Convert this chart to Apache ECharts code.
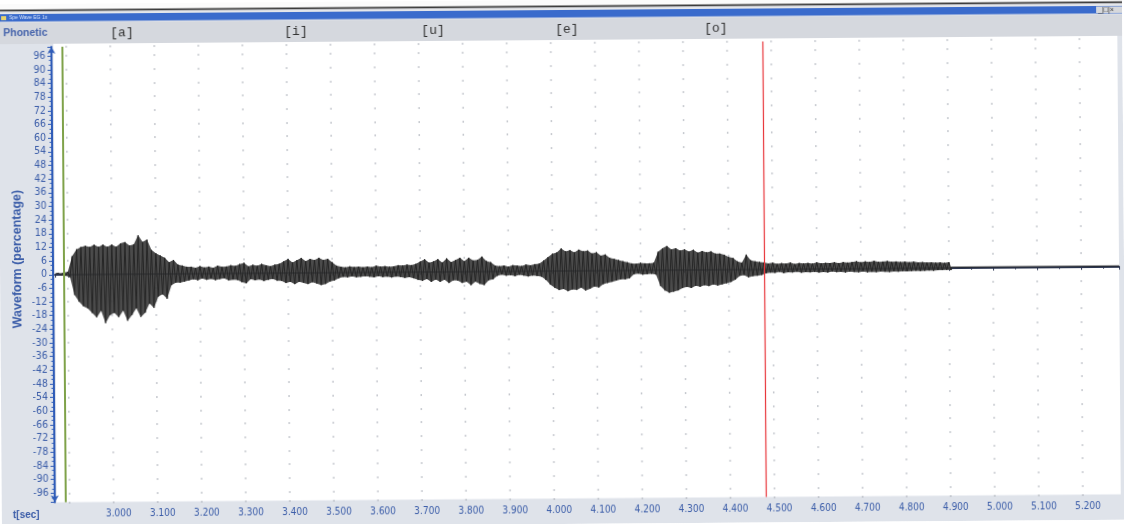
<!DOCTYPE html>
<html>
<head>
<meta charset="utf-8">
<title>waveform</title>
<script src="https://cdn.jsdelivr.net/npm/echarts@6/dist/echarts.min.js"></script>
<style>
    html, body { margin: 0; padding: 0; background: #fff; overflow: hidden; }
    /* the reference is a slightly tilted scan */
    #main { width: 1124px; height: 524px; transform: rotate(-0.43deg); }
</style>
</head>
<body>
<div id="main"></div>
<script>
    // axis range (seconds / percent)
    var tMin = 2.871, tMax = 5.286;
    var yMin = -100, yMax = 100;
    var xStep = 0.1, yStep = 6;

    // envelope of the waveform, one upper and one lower peak every sampleStep seconds
    var sampleStart = 2.88;
    var sampleStep = 0.01;
    var waveUpper = [
        0.6, 0.8, 1.2, 8, 11, 12, 12.5, 12, 13, 12,
        13, 12, 13, 12, 13.5, 14, 12.5, 13, 17, 14,
        15, 10.5, 9, 8, 7, 5, 6, 4, 3.5, 3,
        3, 2.5, 3.2, 2.6, 3, 2.4, 3.4, 2.8, 3, 3.5,
        3.2, 4, 4.5, 3, 3.6, 3.2, 4, 3.4, 3, 3.6,
        4, 5, 6, 4.5, 5.5, 6.5, 5, 6, 5.5, 6.5,
        5.5, 6, 4.5, 3, 2.5, 2.2, 2.6, 2.3, 2.5, 2.2,
        2.5, 2.2, 2.8, 2.4, 2.6, 2.3, 2.5, 3, 2.8, 3.2,
        3, 3.5, 4.5, 5.5, 4, 4.5, 5.5, 4, 5.8, 4.2,
        5, 6, 4.5, 6, 4.8, 5, 6.5, 4.5, 4, 2.5,
        2.2, 2.5, 2, 2.6, 2.4, 2.2, 2.8, 2.5, 3, 3.2,
        4.5, 6, 7.5, 8, 9.8, 8.5, 9, 8, 9.2, 8.5,
        8.8, 7.5, 8, 6.5, 7, 5.5, 5, 4.5, 4, 3.5,
        3, 2.8, 3.2, 3, 3, 3.2, 8, 9.5, 10.5, 9,
        9.5, 8.5, 9, 8, 8.8, 7.5, 8.2, 7.6, 8, 7,
        7, 6.5, 5.5, 5, 3.5, 3, 6.5, 4, 3.5, 3.2,
        3, 2.5, 2.8, 2.3, 2.6, 2.4, 2.8, 2.2, 2.6, 2.4,
        2.6, 2.3, 2.8, 2.4, 2.6, 2.5, 2.8, 2.4, 2.9, 2.6,
        2.9, 3.2, 2.7, 3.1, 2.8, 3.3, 2.9, 3, 3.2, 2.8,
        3, 2.7, 2.9, 2.6, 2.8, 2.5, 2.6, 2.4, 2.5, 2.3,
        2.4, 2.2, 2.5
    ];
    var waveLower = [
        -0.4, -0.6, -1.2, -9, -12, -14, -15, -17, -19, -16,
        -21.5, -18, -17, -19, -16, -20.5, -18, -15, -19, -17,
        -13, -15, -10, -9, -11, -5, -4, -4, -3.5, -3,
        -2.5, -3, -2.2, -2.8, -2.4, -3, -2.5, -2.2, -3.2, -2.8,
        -3, -4, -4.5, -2.6, -3.2, -2.8, -3.5, -3, -2.6, -3.4,
        -3.5, -4.5, -4, -5, -4, -4.5, -5, -4.2, -4.8, -5.5,
        -5, -4, -3.5, -2.5, -2, -2.2, -1.8, -2.2, -2, -1.8,
        -2, -2.3, -1.8, -2.2, -2, -2.4, -2, -2.2, -2.6, -2.3,
        -2.8, -3.5, -4, -3.2, -4.5, -3.4, -4.5, -3.5, -5, -3.8,
        -4, -5, -4.5, -6, -4.5, -5.5, -6, -4, -3.5, -2,
        -1.5, -2, -1.8, -2.2, -1.6, -2, -2.4, -2, -2.2, -2.5,
        -4, -6, -7.5, -8.5, -8, -9, -8.2, -8.5, -7.5, -8.8,
        -8, -7, -7.5, -6, -5.5, -5, -4.5, -4, -4, -3.5,
        -1.8, -1.5, -2, -1.8, -1.6, -2, -7, -9, -10, -9.5,
        -9, -8, -7.5, -8, -7, -7.5, -6.8, -7.2, -6.5, -7,
        -6.5, -6, -5.5, -4.5, -2.8, -2.5, -3.5, -3, -2.8, -2.5,
        -1.8, -1.5, -1.6, -1.2, -1.8, -1.4, -1.5, -1.2, -1.6, -1.4,
        -1.5, -1.3, -1.6, -1.4, -1.6, -1.2, -1.5, -1.4, -1.7, -1.3,
        -1.5, -1.6, -1.3, -1.7, -1.5, -1.6, -1.4, -1.5, -1.6, -1.4,
        -1.5, -1.3, -1.4, -1.3, -1.2, -1.3, -1.2, -1.1, -1.2, -1,
        -1, -0.9, -1
    ];
    // flat parts before and after the recording
    var leadTimes = [2.872, 2.876];
    var leadValues = [0.4, 0.4];
    var tailTimes = [4.905, 5.286];
    var tailValues = [0.3, 0.3];

    // phonetic marks and cursors
    var phoneticLabels = ['[a]', '[i]', '[u]', '[e]', '[o]'];
    var phoneticTimes = [3.027, 3.422, 3.733, 4.037, 4.375];
    var cursorGreen = 2.894;
    var cursorRed = 4.479;

    var blueText = '#3a5ca8';
    var narrow = "'Liberation Sans Narrow', 'DejaVu Sans Condensed', Arial, sans-serif";

    // zig-zag between upper and lower peaks
    var wave = [];
    for (var i = 0; i < leadTimes.length; i++) wave.push([leadTimes[i], leadValues[i]]);
    for (var j = 0; j < waveUpper.length; j++) {
        var t = sampleStart + j * sampleStep;
        wave.push([t, waveUpper[j]]);
        wave.push([t + sampleStep / 2, waveLower[j]]);
    }
    for (var k = 0; k < tailTimes.length; k++) wave.push([tailTimes[k], tailValues[k]]);

    // filled body of the waveform, drawn between the two envelopes
    function renderBody(params, api) {
        var pts = [];
        for (var a = 0; a < waveUpper.length; a++) {
            pts.push(api.coord([sampleStart + a * sampleStep, waveUpper[a]]));
        }
        for (var b = waveLower.length - 1; b >= 0; b--) {
            pts.push(api.coord([sampleStart + b * sampleStep + sampleStep / 2, waveLower[b]]));
        }
        return { type: 'polygon', shape: { points: pts }, style: { fill: '#3c3c3c', opacity: 0.92 } };
    }

    var chart = echarts.init(document.getElementById('main'));

    var option = {
        animation: false,
        backgroundColor: '#dfe3ea',
        grid: { left: 55, right: 5, top: 43, bottom: 25.5, containLabel: false },
        xAxis: {
            type: 'value',
            min: tMin,
            max: tMax,
            minInterval: xStep,
            maxInterval: xStep,
            axisLine: { show: true, lineStyle: { color: '#2b3550', width: 2 } },
            axisTick: { show: true, length: 3, lineStyle: { color: '#2b3550' } },
            minorTick: { show: true, splitNumber: 2, length: 2, lineStyle: { color: '#2b3550' } },
            axisLabel: {
                color: blueText,
                fontFamily: narrow,
                fontSize: 10,
                margin: 7,
                padding: [0, 0, 0, 10],
                showMinLabel: false,
                showMaxLabel: false,
                formatter: function (v) { return v < 2.95 ? '' : v.toFixed(3); }
            },
            splitLine: { show: false }
        },
        yAxis: {
            type: 'value',
            min: yMin,
            max: yMax,
            minInterval: yStep,
            maxInterval: yStep,
            offset: 2,
            axisLine: {
                show: true,
                symbol: ['arrow', 'arrow'],
                symbolSize: [6, 7],
                lineStyle: { color: '#2f5cb8', width: 2 }
            },
            axisTick: { show: true, length: 4, lineStyle: { color: '#2f5cb8' } },
            minorTick: { show: true, splitNumber: 3, length: 2.5, lineStyle: { color: '#2f5cb8' } },
            axisLabel: {
                color: blueText,
                fontFamily: narrow,
                fontSize: 10.5,
                margin: 6,
                showMinLabel: false,
                showMaxLabel: false,
                formatter: function (v) { return String(Math.round(v)); }
            },
            splitLine: {
                show: true,
                lineStyle: { color: '#b3b7bf', width: 1.5, type: [1.5, 42.558], dashOffset: 32.03 }
            }
        },
        graphic: [
            { id: 'top', type: 'rect', z: -10, shape: { x: 0, y: 0, width: 1124, height: 7 }, style: { fill: '#fbfbfb' } },
            { id: 'edge', type: 'rect', z: -9, shape: { x: 0, y: 5.5, width: 1124, height: 1.8 }, style: { fill: '#3a3a3a' } },
            { id: 'frame', type: 'rect', z: -10, shape: { x: 0, y: 7.3, width: 1124, height: 11.2 }, style: { fill: '#e4e6ea' } },
            { id: 'titlebar', type: 'rect', z: -9, shape: { x: 0, y: 10, width: 1124, height: 7.5 }, style: { fill: '#3a6bcc' } },
            { id: 'icon', type: 'rect', z: -8, shape: { x: 3, y: 12, width: 5, height: 4 }, style: { fill: '#e8d36a' } },
            { id: 'title', type: 'text', z: 100, x: 11, y: 14, style: { text: 'Spe Wave EG 1x', fill: '#d7e3fb', font: '5px sans-serif', verticalAlign: 'middle' } },
            { id: 'btns', type: 'rect', z: -8, shape: { x: 1098, y: 10.5, width: 26, height: 6.5 }, style: { fill: '#d6d8dc' } },
            { id: 'btnText', type: 'text', z: 100, x: 1100, y: 14, style: { text: '_|□|×', fill: '#333', font: '7px sans-serif', verticalAlign: 'middle' } },
            { id: 'strip', type: 'rect', z: -10, shape: { x: 0, y: 18.5, width: 1124, height: 21.5 }, style: { fill: '#d5d8de' } },
            { id: 'plot', type: 'rect', z: -10, shape: { x: 55, y: 40, width: 1064, height: 458.5 }, style: { fill: '#ffffff' } },
            { id: 'phonetic', type: 'text', z: 100, x: 5, y: 29, style: { text: 'Phonetic', fill: '#4563ab', font: 'bold 10.5px "Liberation Sans", Arial, sans-serif', verticalAlign: 'middle' } },
            { id: 'yname', type: 'text', z: 100, x: 18, y: 255, rotation: Math.PI / 2, style: { text: 'Waveform (percentage)', fill: '#3a5ca8', font: 'bold 12.5px "Liberation Sans", Arial, sans-serif', align: 'center', verticalAlign: 'middle' } },
            { id: 'xname', type: 'text', z: 100, x: 11, y: 511, style: { text: 't[sec]', fill: '#3a5ca8', font: 'bold 10px "Liberation Sans", Arial, sans-serif', verticalAlign: 'middle' } }
        ],
        series: [{
            type: 'custom',
            data: [[3, 0]],
            clip: true,
            silent: true,
            renderItem: renderBody
        }, {
            type: 'line',
            data: wave,
            showSymbol: false,
            symbol: 'none',
            sampling: false,
            clip: true,
            lineStyle: { color: '#262626', width: 1 },
            markLine: {
                silent: true,
                symbol: 'none',
                label: { show: false },
                data: [
                    { xAxis: cursorGreen, lineStyle: { color: '#7fa24a', width: 2, type: 'solid' } },
                    { xAxis: cursorRed, lineStyle: { color: '#e8353a', width: 1.2, type: 'solid' } }
                ]
            }
        }]
    };

    chart.setOption(option);

    // phonetic labels placed on the time axis
    var marks = phoneticLabels.map(function (s, i) {
        return {
            id: 'ph' + i,
            type: 'text',
            z: 100,
            x: chart.convertToPixel({ xAxisIndex: 0 }, phoneticTimes[i]),
            y: 29.5,
            style: { text: s, fill: '#333', font: '13px "Liberation Mono", "DejaVu Sans Mono", monospace', align: 'center', verticalAlign: 'middle' }
        };
    });
    chart.setOption({ graphic: marks });
</script>
</body>
</html>
